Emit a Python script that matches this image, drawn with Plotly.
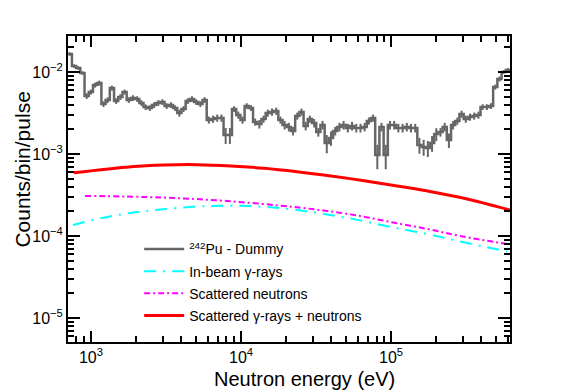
import numpy as np
import plotly.graph_objects as go

# ---------------- data ----------------
# histogram range (eV) and counts per bin (105 log-equal bins)
hist_e_lo = 700.0
hist_e_hi = 6.2e5
hist_counts = [
    0.0166, 0.0118, 0.0112, 0.00972, 0.00510, 0.00570, 0.00694, 0.00734, 0.00407, 0.00456,
    0.00638, 0.00443, 0.00496, 0.00570, 0.00456, 0.00482, 0.00469, 0.00419, 0.00374, 0.00364,
    0.00396, 0.00419, 0.00431, 0.00385, 0.00396, 0.00364, 0.00316, 0.00354, 0.00443, 0.00469,
    0.00431, 0.00407, 0.00456, 0.00260, 0.00267, 0.00275, 0.00275, 0.00170, 0.00170, 0.00354,
    0.00299, 0.00260, 0.00385, 0.00364, 0.00246, 0.00232, 0.00267, 0.00316, 0.00325, 0.00334,
    0.00260, 0.00226, 0.00214, 0.00191, 0.00291, 0.00325, 0.00220, 0.00267, 0.00239, 0.00185,
    0.00226, 0.00136, 0.00157, 0.00191, 0.00214, 0.00226, 0.00208, 0.00220, 0.00208, 0.00208,
    0.00214, 0.00253, 0.00275, 0.000972, 0.00214, 0.000972, 0.00226, 0.00226, 0.00208, 0.00208,
    0.00214, 0.00208, 0.00208, 0.00129, 0.00122, 0.00118, 0.00136, 0.00175, 0.00185, 0.00214,
    0.00148, 0.00226, 0.00253, 0.00307, 0.00267, 0.00283, 0.00291, 0.00299, 0.00374, 0.00374,
    0.00385, 0.00656, 0.00822, 0.0100, 0.0106,
]
# relative statistical uncertainty per bin
hist_rel_err = [
    0.05, 0.05, 0.05, 0.05, 0.08, 0.07, 0.07, 0.07, 0.08, 0.08,
    0.07, 0.08, 0.08, 0.07, 0.08, 0.08, 0.08, 0.08, 0.08, 0.08,
    0.08, 0.08, 0.08, 0.08, 0.08, 0.08, 0.10, 0.08, 0.08, 0.08,
    0.08, 0.08, 0.08, 0.10, 0.10, 0.10, 0.10, 0.22, 0.22, 0.08,
    0.10, 0.10, 0.08, 0.08, 0.10, 0.12, 0.10, 0.10, 0.10, 0.10,
    0.10, 0.12, 0.12, 0.12, 0.10, 0.10, 0.12, 0.10, 0.12, 0.12,
    0.12, 0.25, 0.20, 0.12, 0.12, 0.12, 0.12, 0.12, 0.12, 0.12,
    0.12, 0.10, 0.10, 0.33, 0.12, 0.33, 0.12, 0.12, 0.12, 0.12,
    0.12, 0.12, 0.12, 0.22, 0.22, 0.22, 0.22, 0.18, 0.12, 0.12,
    0.20, 0.12, 0.10, 0.10, 0.10, 0.10, 0.10, 0.10, 0.08, 0.08,
    0.08, 0.07, 0.07, 0.05, 0.05,
]

# Scattered gamma-rays + neutrons (red)
red_e = [770, 1848, 3067, 5090, 8570, 14230, 23620, 39810, 66070, 109650, 184800, 306900, 509300, 621000]
red_v = [5.91e-4, 7.00e-4, 7.34e-4, 7.41e-4, 7.15e-4, 6.70e-4, 6.08e-4, 5.39e-4, 4.72e-4,
         4.07e-4, 3.47e-4, 2.88e-4, 2.28e-4, 2.07e-4]

# Scattered neutrons (magenta)
mag_e = [912, 2884, 8070, 22230, 37430, 62130, 103100, 173800, 288400, 593300]
mag_v = [3.08e-4, 2.95e-4, 2.67e-4, 2.26e-4, 2.02e-4, 1.75e-4, 1.46e-4, 1.22e-4, 1.00e-4, 7.98e-5]

# In-beam gamma-rays (cyan)
cyan_e = [759, 1031, 1738, 2884, 6210, 13390, 22230, 37430, 62130, 103100, 173800, 288400, 593300]
cyan_v = [1.36e-4, 1.57e-4, 1.88e-4, 2.10e-4, 2.32e-4, 2.29e-4, 2.10e-4, 1.83e-4, 1.55e-4,
          1.27e-4, 1.06e-4, 8.57e-5, 6.47e-5]

x_tickvals = [1e3, 1e4, 1e5]
x_ticktext = ["10<sup>3</sup>", "10<sup>4</sup>", "10<sup>5</sup>"]
y_tickvals = [1e-5, 1e-4, 1e-3, 1e-2]
y_ticktext = ["10<sup>\u22125</sup>", "10<sup>\u22124</sup>", "10<sup>\u22123</sup>", "10<sup>\u22122</sup>"]

# ---------------- figure ----------------
n_bins = len(hist_counts)
edges = np.logspace(np.log10(hist_e_lo), np.log10(hist_e_hi), n_bins + 1)
centers = np.sqrt(edges[:-1] * edges[1:])
counts = np.array(hist_counts)
errs = counts * np.array(hist_rel_err)

GRAY = "#666666"
FONT = "Liberation Sans, Arial, sans-serif"
fig = go.Figure()

fig.add_trace(go.Scatter(
    x=list(edges), y=list(counts) + [counts[-1]],
    mode="lines", line=dict(color=GRAY, width=2.5, shape="hv"),
    name="<sup>242</sup>Pu - Dummy", legendgroup="a",
))
fig.add_trace(go.Scatter(
    x=centers, y=counts, mode="markers",
    marker=dict(size=1, color="rgba(0,0,0,0)"),
    error_y=dict(type="data", symmetric=False, array=errs, arrayminus=errs,
                 width=0, thickness=2, color=GRAY),
    showlegend=False, hoverinfo="skip",
))
fig.add_trace(go.Scatter(
    x=cyan_e, y=cyan_v, mode="lines",
    line=dict(color="#00ffff", width=2, dash="12px,7px,2px,7px", shape="spline"),
    name="In-beam \u03b3-rays", legendgroup="b",
))
fig.add_trace(go.Scatter(
    x=mag_e, y=mag_v, mode="lines",
    line=dict(color="#ff00ff", width=2, dash="6px,3px,2px,3px", shape="spline"),
    name="Scattered neutrons", legendgroup="c",
))
fig.add_trace(go.Scatter(
    x=red_e, y=red_v, mode="lines",
    line=dict(color="#ff0000", width=3, shape="spline"),
    name="Scattered \u03b3-rays + neutrons", legendgroup="d",
))

x_minor = [m * 10 ** k for k in range(2, 6) for m in range(2, 10)]
y_minor = [m * 10.0 ** k for k in range(-6, -1) for m in range(2, 10)]

axis_common = dict(
    showline=True, linecolor="black", linewidth=2, mirror="allticks",
    ticks="inside", tickcolor="black", tickwidth=1.5,
    showgrid=False, zeroline=False,
    tickfont=dict(family=FONT, size=16, color="black"),
)

fig.update_xaxes(
    type="log", range=[np.log10(hist_e_lo) + 0.002, np.log10(hist_e_hi)],
    tickmode="array", tickvals=x_tickvals, ticktext=x_ticktext, ticklen=11,
    minor=dict(tickmode="array", tickvals=x_minor, ticks="inside", ticklen=6,
               tickcolor="black", tickwidth=1.5, showgrid=False),
    **axis_common,
)
fig.update_yaxes(
    type="log", range=[-5.293, -1.561],
    tickmode="array", tickvals=y_tickvals, ticktext=y_ticktext, ticklen=12,
    minor=dict(tickmode="array", tickvals=y_minor, ticks="inside", ticklen=6,
               tickcolor="black", tickwidth=1.5, showgrid=False),
    **axis_common,
)

fig.add_annotation(text="Neutron energy (eV)", xref="paper", yref="paper",
                   x=0.536, y=-0.122, xanchor="center", yanchor="middle", showarrow=False,
                   font=dict(family=FONT, size=20, color="black"))
fig.add_annotation(text="Counts/bin/pulse", xref="paper", yref="paper",
                   x=-0.105, y=0.562, xanchor="center", yanchor="middle", showarrow=False,
                   textangle=-90,
                   font=dict(family=FONT, size=21, color="black"))

fig.update_layout(
    width=562, height=390,
    margin=dict(l=68, r=52, t=36, b=48),
    paper_bgcolor="white", plot_bgcolor="white",
    showlegend=True,
    legend=dict(x=0.161, y=0.355, xanchor="left", yanchor="top",
                bgcolor="rgba(0,0,0,0)", borderwidth=0,
                traceorder="grouped", tracegroupgap=1, itemwidth=40,
                font=dict(family=FONT, size=14, color="black")),
)

fig.write_html("out.html", config={"displayModeBar": False},
               post_script="document.body.style.margin='0px';document.body.style.overflow='hidden';")
